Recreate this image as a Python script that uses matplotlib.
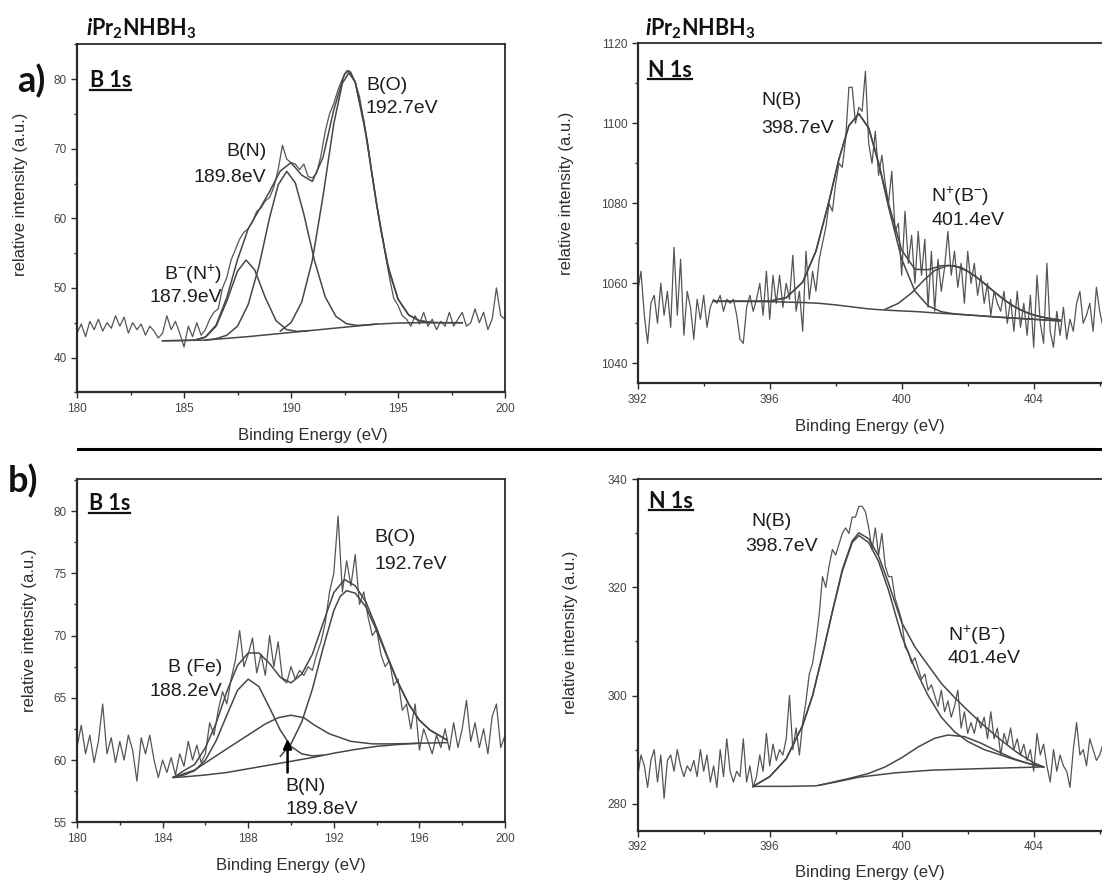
import numpy as np
import matplotlib
matplotlib.use("Agg")
import matplotlib.pyplot as plt
from matplotlib.lines import Line2D
from matplotlib.ticker import MultipleLocator, FixedLocator

plt.rcParams.update({
    "font.family": ["Liberation Sans", "DejaVu Sans"],
    "mathtext.fontset": "custom",
    "mathtext.rm": "Liberation Sans",
    "mathtext.it": "Lato:italic:bold",
    "mathtext.bf": "Lato:bold",
})

# ---------------- data: panel a, B 1s ----------------
a_B_energy = np.linspace(180, 200, 101)
a_B_counts = [
    43.5, 44.8, 43.0, 45.2, 44.0, 45.5, 43.8, 45.0, 44.2, 46.0,
    44.5, 45.8, 43.5, 45.0, 44.0, 44.8, 43.2, 44.5, 43.8, 42.8,
    43.5, 46.0, 44.0, 45.2, 43.5, 41.5, 44.5, 43.0, 45.0, 43.2,
    44.0, 45.5, 46.5, 47.0, 50.0, 51.5, 54.0, 55.5, 57.0, 58.0,
    58.5, 59.5, 61.0, 61.5, 62.5, 63.0, 64.5, 67.0, 70.5, 68.5,
    68.0, 67.8, 67.0, 67.8, 66.0, 65.8, 66.5, 69.0, 72.5, 75.0,
    76.5, 78.5, 80.0, 81.2, 81.0, 79.5, 77.5, 74.0, 70.5, 66.0,
    62.0, 58.5, 55.0, 51.5, 48.5, 47.5, 46.0, 45.5, 44.5, 46.0,
    44.8, 46.5, 44.5, 45.5, 44.0, 45.2, 44.5, 46.5, 44.5, 45.5,
    46.5, 44.5, 45.0, 47.0, 45.0, 46.5, 44.0, 45.5, 50.0, 46.0,
    45.5]
a_B_bg_x = [184.0, 185.0, 186.0, 187.0, 188.0, 189.0, 190.0, 191.0, 192.0, 193.0, 194.0, 195.0, 196.0, 197.0, 198.0]
a_B_bg_y = [42.4, 42.45, 42.5, 42.75, 43.0, 43.3, 43.6, 43.9, 44.2, 44.5, 44.8, 44.95, 45.0, 45.0, 45.0]
a_B_env_x = [184.0, 185.0, 185.5, 186.0, 186.5, 187.0, 187.5, 188.0, 188.5, 189.0, 189.5, 190.0, 190.5,
             191.0, 191.5, 192.0, 192.5, 192.7, 193.0, 193.5, 194.0, 194.5, 195.0, 195.5, 196.0, 196.5, 197.0, 198.0]
a_B_env_y = [42.4, 42.45, 42.5, 42.96, 44.65, 48.6, 54.05, 58.5, 61.15, 63.85, 66.8, 68.0, 66.2,
             65.3, 68.8, 75.6, 80.75, 81.2, 79.6, 72.1, 62.0, 53.5, 48.4, 46.1, 45.3, 45.05, 45.0, 45.0]
a_B_BmNp_x = [185.5, 186.0, 186.5, 187.0, 187.5, 187.9, 188.3, 188.8, 189.3, 189.8, 190.3, 190.8]
a_B_BmNp_y = [42.5, 42.9, 44.5, 48.1, 52.4, 54.0, 52.6, 48.6, 45.3, 44.0, 43.75, 43.85]
a_B_BN_x = [186.0, 186.5, 187.0, 187.5, 188.0, 188.5, 189.0, 189.4, 189.8, 190.2, 190.6, 191.1,
            191.6, 192.1, 192.6, 193.1, 193.6, 194.0]
a_B_BN_y = [42.5, 42.7, 43.2, 44.5, 47.6, 53.1, 60.1, 64.8, 66.75, 65.1, 60.6, 53.9,
            48.7, 45.9, 44.85, 44.6, 44.7, 44.8]
a_B_BO_x = [189.5, 190.0, 190.5, 191.0, 191.5, 192.0, 192.4, 192.7, 193.0, 193.4, 193.8, 194.2,
            194.6, 195.0, 195.5, 196.0, 196.5]
a_B_BO_y = [43.8, 45.0, 47.95, 54.0, 63.25, 73.6, 79.4, 80.9, 79.6, 74.0, 66.05, 58.25,
            52.2, 48.4, 46.1, 45.3, 45.05]

# ---------------- data: panel a, N 1s ----------------
a_N_energy = np.linspace(392, 407, 151)
a_N_counts = [
    1058, 1063, 1052, 1045, 1055, 1057, 1050, 1060, 1052, 1058,
    1049, 1069, 1052, 1066, 1047, 1058, 1054, 1046, 1056, 1051,
    1057, 1049, 1054, 1056, 1055, 1057, 1053, 1056, 1055, 1056,
    1052, 1046, 1045, 1054, 1057, 1053, 1056, 1060, 1052, 1063,
    1051, 1062, 1055, 1062, 1054, 1060, 1056, 1067, 1053, 1058,
    1048, 1068, 1056, 1063, 1058, 1066, 1070, 1074, 1080, 1078,
    1085, 1090, 1089, 1096, 1109, 1109, 1100, 1104, 1103, 1113,
    1095, 1090, 1098, 1087, 1092, 1085, 1080, 1088, 1073, 1075,
    1062, 1078, 1065, 1072, 1060, 1073, 1062, 1071, 1054, 1068,
    1053, 1066, 1058, 1064, 1073, 1062, 1068, 1059, 1065, 1055,
    1068, 1060, 1065, 1057, 1062, 1055, 1060, 1052, 1058, 1055,
    1053, 1058, 1050, 1056, 1048, 1058, 1049, 1055, 1047, 1057,
    1044, 1062, 1050, 1045, 1065, 1048, 1044, 1053, 1047, 1054,
    1046, 1051, 1048, 1055, 1058, 1050, 1052, 1055, 1048, 1059,
    1053, 1049, 1056, 1051, 1054, 1050, 1057, 1052, 1055, 1051,
    1053]
a_N_bg_x = [394.3, 395.0, 396.0, 397.0, 397.5, 398.0, 398.5, 399.0, 399.5, 400.0, 400.5, 401.0, 402.0, 403.0, 404.0, 404.8]
a_N_bg_y = [1055.5, 1055.5, 1055.4, 1055.2, 1055.0, 1054.6, 1054.1, 1053.6, 1053.3, 1053.1, 1052.9, 1052.6, 1052.1, 1051.5, 1051.0, 1050.6]
a_N_NB_x = [394.3, 395.5, 396.0, 396.5, 397.0, 397.4, 397.8, 398.1, 398.4, 398.7, 399.0, 399.3, 399.6,
            400.0, 400.4, 400.8, 401.2, 401.6, 402.0, 403.0, 404.0, 404.8]
a_N_NB_y = [1055.5, 1055.5, 1055.55, 1056.4, 1060.3, 1068.0, 1080.6, 1091.1, 1099.4, 1102.4, 1098.8, 1090.05, 1079.1,
            1066.05, 1058.05, 1054.35, 1052.9, 1052.35, 1052.1, 1051.5, 1051.0, 1050.6]
a_N_NpBm_x = [399.5, 399.9, 400.3, 400.7, 401.0, 401.4, 401.8, 402.2, 402.6, 403.0, 403.4, 403.8, 404.2, 404.8]
a_N_NpBm_y = [1053.5, 1055.0, 1057.6, 1061.0, 1063.2, 1064.5, 1064.0, 1062.0, 1059.3, 1056.5, 1054.2, 1052.6, 1051.6, 1050.8]
a_N_env_x = [394.3, 395.0, 396.0, 396.5, 397.0, 397.4, 397.8, 398.1, 398.4, 398.7, 399.0, 399.3, 399.6,
             400.0, 400.4, 400.8, 401.2, 401.6, 402.0, 402.4, 402.8, 403.2, 403.6, 404.0, 404.4, 404.8]
a_N_env_y = [1055.5, 1055.5, 1055.55, 1056.4, 1060.3, 1068.0, 1080.6, 1091.1, 1099.4, 1102.4, 1098.8, 1090.1, 1080.0,
             1068.3, 1063.5, 1063.4, 1064.4, 1064.4, 1063.0, 1060.7, 1057.9, 1055.3, 1053.3, 1052.1, 1051.3, 1050.8]

# ---------------- data: panel b, B 1s ----------------
b_B_energy = np.linspace(180, 200, 101)
b_B_counts = [
    61.0, 62.8, 60.5, 62.0, 59.8, 61.5, 64.5, 60.5, 61.8, 59.8,
    61.5, 60.0, 62.0, 60.8, 58.3, 61.8, 60.5, 62.0, 60.0, 58.6,
    60.0, 59.0, 60.2, 58.8, 60.5, 59.5, 61.5, 60.0, 61.2, 59.8,
    60.5, 63.0, 62.0, 64.0, 65.5, 64.5, 66.5, 68.0, 70.4, 67.5,
    68.5, 69.8, 67.0, 68.5, 66.8, 70.0, 67.5, 69.5, 66.5, 66.2,
    67.5, 66.5, 67.2, 66.8, 67.5, 67.2, 68.5, 69.5, 71.0, 73.5,
    75.0, 79.6, 73.5, 76.0, 74.0, 76.5, 72.5, 73.5, 71.5, 70.0,
    70.5, 68.5, 67.5, 68.0, 66.0, 66.5, 64.0, 64.5, 62.5, 64.5,
    60.8, 62.5, 61.5, 60.5, 62.0, 61.0, 62.5, 60.8, 63.0, 61.0,
    62.5, 64.8, 61.5, 63.0, 61.0, 62.5, 60.5, 63.5, 64.5, 61.0,
    62.0]
b_B_bg_x = [184.5, 185.0, 186.0, 187.0, 188.0, 189.0, 190.0, 191.0, 192.0, 193.0, 194.0, 195.0, 196.0, 197.3]
b_B_bg_y = [58.6, 58.65, 58.8, 59.0, 59.3, 59.6, 59.9, 60.2, 60.55, 60.85, 61.1, 61.25, 61.35, 61.4]
b_B_BFe_x = [184.5, 185.0, 185.5, 186.0, 186.5, 187.0, 187.5, 188.0, 188.5, 189.0, 189.5, 190.0, 190.5, 191.0, 191.5]
b_B_BFe_y = [58.63, 58.8, 59.15, 60.0, 61.55, 63.6, 65.6, 66.5, 65.9, 64.2, 62.4, 61.1, 60.5, 60.33, 60.4]
b_B_BN_x = [184.5, 185.5, 186.2, 187.0, 187.9, 188.8, 189.4, 190.0, 190.6, 191.1, 191.8, 192.8, 193.8, 194.8, 196.0]
b_B_BN_y = [58.6, 59.2, 60.0, 60.9, 61.9, 62.9, 63.4, 63.6, 63.4, 62.8, 62.1, 61.5, 61.3, 61.3, 61.35]
b_B_BO_x = [189.5, 190.0, 190.5, 191.0, 191.5, 192.0, 192.3, 192.6, 193.0, 193.5, 194.0, 194.5,
            195.0, 195.5, 196.0, 196.5, 197.0, 197.3]
b_B_BO_y = [60.3, 61.3, 63.05, 65.7, 69.0, 72.0, 73.15, 73.6, 73.4, 72.3, 70.4, 68.25,
            66.2, 64.5, 63.2, 62.4, 61.9, 61.6]
b_B_env_x = [184.5, 185.0, 185.5, 186.0, 186.5, 187.0, 187.5, 188.0, 188.5, 189.0, 189.5, 190.0, 190.5,
             191.0, 191.5, 192.0, 192.5, 193.0, 193.5, 194.0, 194.5, 195.0, 195.5, 196.0, 196.5, 197.0, 197.3]
b_B_env_y = [58.6, 59.15, 59.65, 61.0, 62.95, 65.5, 67.6, 68.6, 68.6, 67.75, 66.65, 66.2, 66.9,
             68.5, 71.0, 73.45, 74.5, 74.0, 72.7, 70.6, 68.35, 66.25, 64.5, 63.2, 62.4, 61.9, 61.6]

# ---------------- data: panel b, N 1s ----------------
b_N_energy = np.linspace(392, 407, 151)
b_N_counts = [
    285, 289, 287, 283, 288, 290, 284, 289, 281, 288,
    289, 286, 290, 287, 285, 287, 286, 288, 285, 290,
    286, 289, 284, 287, 283, 290, 285, 292, 286, 284,
    286, 285, 292, 284, 287, 283, 285, 289, 286, 293,
    287, 291, 288, 290, 289, 292, 300, 290, 294, 289,
    295, 299, 304, 306, 310, 315, 322, 320, 324, 327,
    326, 328, 330, 331, 330, 333, 333, 335, 335, 334,
    331, 327, 331, 326, 330, 324, 322, 322, 318, 316,
    314, 309, 308, 306, 307, 305, 303, 304, 301, 302,
    300, 298, 301, 297, 299, 296, 298, 301, 294, 297,
    293, 295, 293, 296, 294, 296, 292, 297, 292, 294,
    289, 293, 291, 294, 290, 292, 289, 291, 288, 290,
    286, 293, 289, 291, 287, 284, 290, 286, 289, 287,
    286, 283, 290, 295, 289, 290, 287, 292, 290, 288,
    289, 291, 287, 290, 288, 292, 289, 287, 290, 288,
    289]
b_N_bg_x = [395.5, 396.5, 397.4, 398.0, 398.7, 399.8, 400.9, 402.5, 404.3]
b_N_bg_y = [283.2, 283.2, 283.3, 284.0, 284.9, 285.7, 286.2, 286.5, 286.8]
b_N_NB_x = [395.5, 396.0, 396.5, 397.0, 397.3, 397.6, 397.9, 398.2, 398.5, 398.7, 399.0, 399.3, 399.6,
            400.0, 400.4, 400.8, 401.2, 401.6, 402.0, 402.5, 403.0, 403.5, 404.0, 404.3]
b_N_NB_y = [283.2, 285.0, 288.3, 294.5, 300.0, 307.5, 315.5, 323.0, 328.3, 329.6, 328.3, 324.8, 319.5,
            311.0, 305.0, 300.0, 296.0, 293.3, 291.5, 290.0, 289.0, 288.0, 287.2, 286.8]
b_N_NpBm_x = [397.5, 398.5, 399.0, 399.5, 400.0, 400.5, 401.0, 401.4, 401.9, 402.4, 402.9, 403.4, 403.9, 404.3]
b_N_NpBm_y = [283.4, 284.8, 285.6, 286.8, 288.5, 290.5, 292.1, 292.7, 292.4, 291.2, 289.7, 288.3, 287.3, 286.8]
b_N_env_x = [395.5, 396.0, 396.5, 397.0, 397.3, 397.6, 397.9, 398.2, 398.5, 398.7, 399.0, 399.3, 399.6,
             400.0, 400.4, 400.8, 401.2, 401.6, 402.0, 402.5, 403.0, 403.5, 404.0, 404.3]
b_N_env_y = [283.2, 285.0, 288.3, 294.5, 300.0, 307.6, 315.6, 323.3, 328.6, 330.1, 329.0, 325.8, 320.8,
             313.5, 309.0, 305.6, 302.25, 299.65, 297.25, 294.4, 291.8, 289.45, 287.55, 286.8]

title_text = r"$\mathit{i}\mathbf{Pr_{2}NHBH_{3}}$"
xlabel_text = "Binding Energy (eV)"
ylabel_text = "relative intensity (a.u.)"
N_major_ticks = [392, 396, 400, 404]
N_minor_ticks = [394, 398, 402, 406]

# ---------------- figure ----------------
W, H = 1102, 885
fig = plt.figure(figsize=(W / 100, H / 100), dpi=100)


def px_axes(x0, y_top, w, y_bot):
    return fig.add_axes([x0 / W, 1 - y_bot / H, w / W, (y_bot - y_top) / H])


ax_aB = px_axes(77, 44.3, 428, 392.3)
ax_aN = px_axes(637.7, 43.3, 528, 383.3)
ax_bB = px_axes(77, 479.3, 428, 822.3)
ax_bN = px_axes(637.7, 479.3, 528, 830.7)

RAW = "#555555"
FIT = "#474747"
TXT = "#1e1e1e"


def style(ax, xlim, ylim, xmaj, xmin, ymaj, ymin, xl, yl):
    ax.set_xlim(*xlim)
    ax.set_ylim(*ylim)
    if isinstance(xmaj, list):
        ax.xaxis.set_major_locator(FixedLocator(xmaj))
        ax.xaxis.set_minor_locator(FixedLocator(xmin))
    else:
        ax.xaxis.set_major_locator(MultipleLocator(xmaj))
        ax.xaxis.set_minor_locator(MultipleLocator(xmin))
    ax.yaxis.set_major_locator(MultipleLocator(ymaj))
    ax.yaxis.set_minor_locator(MultipleLocator(ymin))
    for s in ax.spines.values():
        s.set_color("#2b2b2b")
        s.set_linewidth(1.3)
    ax.spines["left"].set_linewidth(1.6)
    ax.spines["bottom"].set_linewidth(1.6)
    ax.tick_params(which="both", direction="out", top=False, right=False,
                   color="#2b2b2b", labelcolor="#444444", labelsize=8.5, width=1.0)
    ax.tick_params(which="major", length=4.5, pad=3)
    ax.tick_params(which="minor", length=2.5)
    ax.set_xlabel(xlabel_text, fontsize=12, color="#2e2e2e")
    ax.set_ylabel(ylabel_text, fontsize=12, color="#2e2e2e")
    ax.xaxis.set_label_coords(*xl)
    ax.yaxis.set_label_coords(*yl)
    ax.xaxis.label.set_va("center")
    ax.yaxis.label.set_va("center")


style(ax_aB, (180, 200), (35, 85), 5, 2.5, 10, 5, (0.55, -0.123), (-0.131, 0.569))
style(ax_aN, (392, 408), (1035, 1120), N_major_ticks, N_minor_ticks, 20, 10, (0.44, -0.126), (-0.134, 0.56))
style(ax_bB, (180, 200), (55, 82.55), 4, 2, 5, 2.5, (0.50, -0.125), (-0.11, 0.56))
style(ax_bN, (392, 408), (275, 340), N_major_ticks, N_minor_ticks, 20, 10, (0.44, -0.120), (-0.128, 0.565))

# raw spectra
ax_aB.plot(a_B_energy, a_B_counts, color=RAW, lw=0.9)
ax_aN.plot(a_N_energy, a_N_counts, color=RAW, lw=0.9)
ax_bB.plot(b_B_energy, b_B_counts, color=RAW, lw=0.9)
ax_bN.plot(b_N_energy, b_N_counts, color=RAW, lw=0.9)

# fits
for ax, curves in [
    (ax_aB, [(a_B_bg_x, a_B_bg_y), (a_B_BmNp_x, a_B_BmNp_y), (a_B_BN_x, a_B_BN_y),
             (a_B_BO_x, a_B_BO_y), (a_B_env_x, a_B_env_y)]),
    (ax_aN, [(a_N_bg_x, a_N_bg_y), (a_N_NB_x, a_N_NB_y), (a_N_NpBm_x, a_N_NpBm_y),
             (a_N_env_x, a_N_env_y)]),
    (ax_bB, [(b_B_bg_x, b_B_bg_y), (b_B_BFe_x, b_B_BFe_y), (b_B_BN_x, b_B_BN_y),
             (b_B_BO_x, b_B_BO_y), (b_B_env_x, b_B_env_y)]),
    (ax_bN, [(b_N_bg_x, b_N_bg_y), (b_N_NB_x, b_N_NB_y), (b_N_NpBm_x, b_N_NpBm_y),
             (b_N_env_x, b_N_env_y)]),
]:
    for cx, cy in curves:
        ax.plot(cx, cy, color=FIT, lw=1.1)

# peak annotations
FS = 14
ax_aB.text(193.5, 79.1, "B(O)", fontsize=FS, color=TXT, ha="left", va="center")
ax_aB.text(193.5, 75.8, "192.7eV", fontsize=FS, color=TXT, ha="left", va="center")
ax_aB.text(188.85, 69.6, "B(N)", fontsize=FS, color=TXT, ha="right", va="center")
ax_aB.text(188.85, 65.9, "189.8eV", fontsize=FS, color=TXT, ha="right", va="center")
ax_aB.text(186.8, 52.0, r"B$^{-}$(N$^{+}$)", fontsize=FS, color=TXT, ha="right", va="center")
ax_aB.text(186.8, 48.65, "187.9eV", fontsize=FS, color=TXT, ha="right", va="center")

ax_aN.text(395.75, 1105.8, "N(B)", fontsize=FS, color=TXT, ha="left", va="center")
ax_aN.text(395.75, 1098.75, "398.7eV", fontsize=FS, color=TXT, ha="left", va="center")
ax_aN.text(400.9, 1081.7, r"N$^{+}$(B$^{-}$)", fontsize=FS, color=TXT, ha="left", va="center")
ax_aN.text(400.9, 1075.8, "401.4eV", fontsize=FS, color=TXT, ha="left", va="center")

ax_bB.text(193.9, 77.87, "B(O)", fontsize=FS, color=TXT, ha="left", va="center")
ax_bB.text(193.9, 75.73, "192.7eV", fontsize=FS, color=TXT, ha="left", va="center")
ax_bB.text(186.8, 67.47, "B (Fe)", fontsize=FS, color=TXT, ha="right", va="center")
ax_bB.text(186.8, 65.47, "188.2eV", fontsize=FS, color=TXT, ha="right", va="center")
ax_bB.text(189.75, 57.87, "B(N)", fontsize=FS, color=TXT, ha="left", va="center")
ax_bB.text(189.75, 56.0, "189.8eV", fontsize=FS, color=TXT, ha="left", va="center")
ax_bB.annotate("", xy=(189.84, 61.7), xytext=(189.84, 59.0),
               arrowprops=dict(arrowstyle="-|>,head_width=0.25,head_length=0.55",
                               color="black", lw=1.8, shrinkA=0, shrinkB=0))

ax_bN.text(395.43, 332.2, "N(B)", fontsize=FS, color=TXT, ha="left", va="center")
ax_bN.text(395.27, 327.55, "398.7eV", fontsize=FS, color=TXT, ha="left", va="center")
ax_bN.text(401.39, 311.2, r"N$^{+}$(B$^{-}$)", fontsize=FS, color=TXT, ha="left", va="center")
ax_bN.text(401.39, 306.9, "401.4eV", fontsize=FS, color=TXT, ha="left", va="center")

# core-level labels (bold, underlined)
CL = dict(fontsize=15.5, fontweight="bold", family="Lato", color="#111", va="baseline")
core_labels = [
    ax_aB.text(180.6, 78.85, "B 1s", **CL),
    ax_aN.text(392.32, 1111.6, "N 1s", **CL),
    ax_bB.text(180.56, 80.08, "B 1s", **CL),
    ax_bN.text(392.34, 334.7, "N 1s", **CL),
]

# titles and panel letters
fig.text(86 / W, 1 - 35 / H, title_text, fontsize=15.5, va="baseline", color="#111")
fig.text(645 / W, 1 - 35 / H, title_text, fontsize=15.5, va="baseline", color="#111")
fig.text(31 / W, 1 - 81 / H, "a)", fontsize=26, fontweight="bold", family="Lato",
         ha="center", va="center", color="#111")
fig.text(23 / W, 1 - 481 / H, "b)", fontsize=26, fontweight="bold", family="Lato",
         ha="center", va="center", color="#111")

# separator between rows
fig.add_artist(Line2D([78 / W, 1.0], [1 - 448.5 / H, 1 - 448.5 / H], color="black", lw=2.2))

# underline the core-level labels
fig.canvas.draw()
renderer = fig.canvas.get_renderer()
for t in core_labels:
    bb = t.get_window_extent(renderer)
    xb, yb = t.get_transform().transform(t.get_position())
    yu = yb - 2.5
    fig.add_artist(Line2D([bb.x0 / W, bb.x1 / W], [yu / H, yu / H], color="#111", lw=1.6))

fig.savefig("out.png", dpi=100)
